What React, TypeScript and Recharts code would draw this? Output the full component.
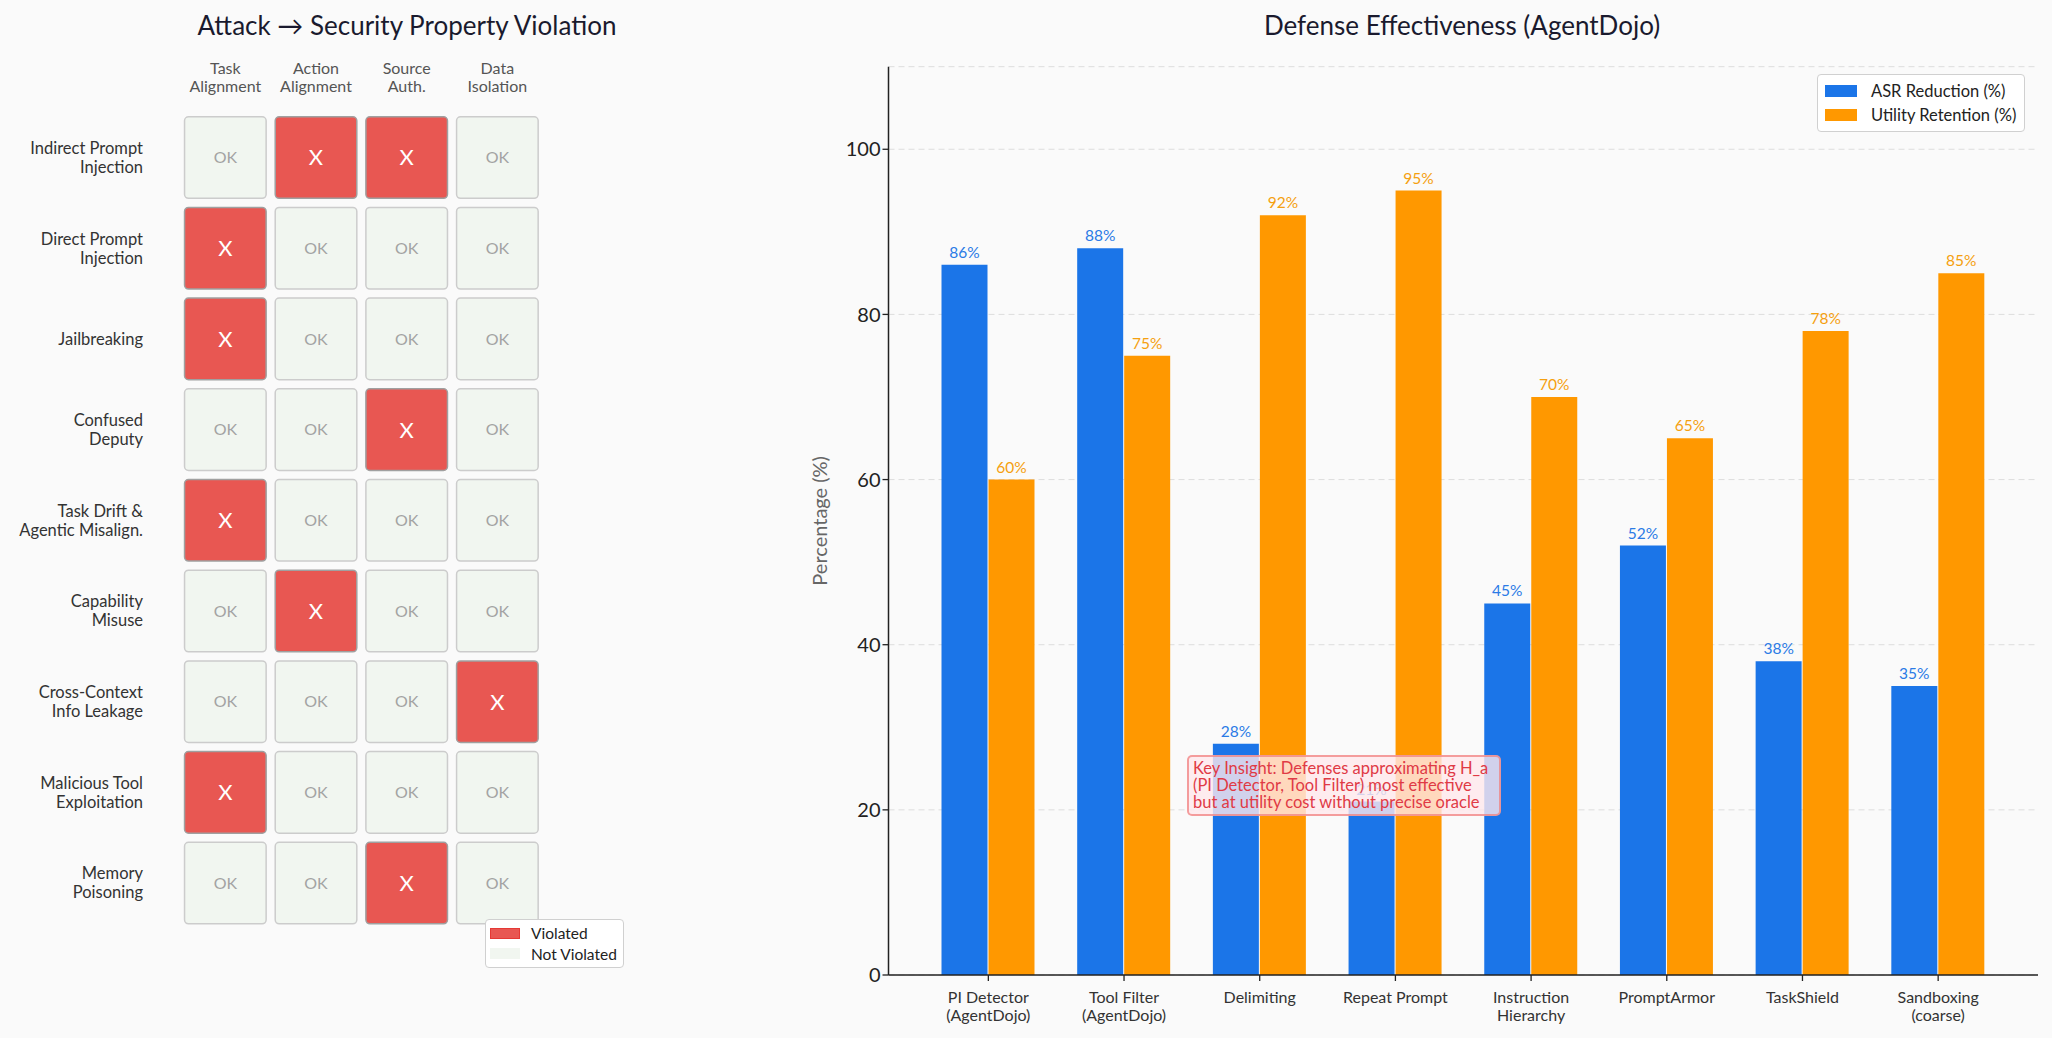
import {
  BarChart,
  Bar,
  XAxis,
  YAxis,
  CartesianGrid,
  LabelList,
  Legend,
  ScatterChart,
  Scatter,
} from "recharts";

// heatmap
const attacks = [
  "Indirect Prompt\nInjection",
  "Direct Prompt\nInjection",
  "Jailbreaking",
  "Confused\nDeputy",
  "Task Drift &\nAgentic Misalign.",
  "Capability\nMisuse",
  "Cross-Context\nInfo Leakage",
  "Malicious Tool\nExploitation",
  "Memory\nPoisoning",
];
const properties = ["Task\nAlignment", "Action\nAlignment", "Source\nAuth.", "Data\nIsolation"];
const violations = [
  [0, 1, 1, 0],
  [1, 0, 0, 0],
  [1, 0, 0, 0],
  [0, 0, 1, 0],
  [1, 0, 0, 0],
  [0, 1, 0, 0],
  [0, 0, 0, 1],
  [1, 0, 0, 0],
  [0, 0, 1, 0],
];

// bar chart
const defenses = [
  "PI Detector\n(AgentDojo)",
  "Tool Filter\n(AgentDojo)",
  "Delimiting",
  "Repeat Prompt",
  "Instruction\nHierarchy",
  "PromptArmor",
  "TaskShield",
  "Sandboxing\n(coarse)",
];
const asrReduction = [86, 88, 28, 21, 45, 52, 38, 35];
const utilityRetention = [60, 75, 92, 95, 70, 65, 78, 85];
const yTicks = [0, 20, 40, 60, 80, 100];

const cells = attacks.flatMap((_, r) =>
  properties.map((_, c) => ({ col: c, row: r, v: violations[r][c] }))
);
const barData = defenses.map((name, i) => ({
  name,
  asr: asrReduction[i],
  util: utilityRetention[i],
}));

const RED = "#e85752";
const PALE = "#f1f6f0";
const BLUE = "#1b75e8";
const ORANGE = "#ff9800";
const CELL = 81.6;

const CellShape = (props: any) => {
  const { cx, cy, payload } = props;
  const bad = payload.v === 1;
  return (
    <g>
      <rect
        x={cx - CELL / 2}
        y={cy - CELL / 2}
        width={CELL}
        height={CELL}
        rx={4}
        fill={bad ? RED : PALE}
        stroke={bad ? "#a0a0a0" : "#cccccc"}
        strokeWidth={1.5}
      />
      <text
        x={cx}
        y={cy}
        dy="0.36em"
        textAnchor="middle"
        fill={bad ? "#ffffff" : "#a3a3a3"}
        fontSize={bad ? 22 : 16}
      >
        {bad ? "X" : "OK"}
      </text>
    </g>
  );
};

const RowTick = (props: any) => {
  const { x, y, payload } = props;
  const lines = attacks[payload.value].split("\n");
  return (
    <text x={x} y={y} textAnchor="end" fill="#333" fontSize={16.5}>
      {lines.map((l, i) => (
        <tspan key={i} x={x} y={y + (i - (lines.length - 1) / 2) * 19} dy="0.35em">
          {l}
        </tspan>
      ))}
    </text>
  );
};

const ColTick = (props: any) => {
  const { x, y, payload } = props;
  const lines = properties[payload.value].split("\n");
  return (
    <text x={x} y={y} textAnchor="middle" fill="#555" fontSize={16}>
      {lines.map((l, i) => (
        <tspan key={i} x={x} y={y - 44 + i * 18} dy="0.35em">
          {l}
        </tspan>
      ))}
    </text>
  );
};

const DefenseTick = (props: any) => {
  const { x, y, payload } = props;
  const lines = String(payload.value).split("\n");
  return (
    <text x={x} y={y} textAnchor="middle" fill="#333" fontSize={16}>
      {lines.map((l, i) => (
        <tspan key={i} x={x} y={y + 14 + i * 18.5} dy="0.35em">
          {l}
        </tspan>
      ))}
    </text>
  );
};

const HeatLegend = () => (
  <div
    style={{
      background: "#fff",
      border: "1.5px solid #d0d0d0",
      borderRadius: 4,
      padding: "3px 6px 3px 4px",
      fontSize: 15.5,
      color: "#222",
    }}
  >
    {[
      { label: "Violated", fill: RED, border: "1.5px solid #e53935" },
      { label: "Not Violated", fill: PALE, border: "1.5px solid " + PALE },
    ].map((it) => (
      <div key={it.label} style={{ display: "flex", alignItems: "center", height: 20.4 }}>
        <span
          style={{
            width: 28,
            height: 9,
            background: it.fill,
            border: it.border,
            marginRight: 11,
          }}
        />
        {it.label}
      </div>
    ))}
  </div>
);

const BarLegend = (props: any) => (
  <div
    style={{
      background: "#fff",
      border: "1.5px solid #d0d0d0",
      borderRadius: 4,
      padding: "4px 8px 4px 7px",
      fontSize: 16.5,
      color: "#222",
    }}
  >
    {(props.payload || []).map((it: any) => (
      <div key={it.value} style={{ display: "flex", alignItems: "center", height: 24 }}>
        <span style={{ width: 32, height: 12, background: it.color, marginRight: 14 }} />
        {it.value}
      </div>
    ))}
  </div>
);

const YLabel = (props: any) => {
  const { viewBox } = props;
  const cx = viewBox.x + 40;
  const cy = viewBox.y + viewBox.height / 2;
  return (
    <text
      x={cx}
      y={cy}
      transform={`rotate(-90 ${cx} ${cy})`}
      textAnchor="middle"
      dy="0.35em"
      fill="#666"
      fontSize={20}
    >
      Percentage (%)
    </text>
  );
};

const titleStyle = {
  position: "absolute" as const,
  top: 9,
  fontSize: 26,
  color: "#1a1a2e",
  transform: "translateX(-50%)",
  whiteSpace: "nowrap" as const,
};

export default function App() {
  return (
    <div
      style={{
        position: "absolute",
        left: 0,
        top: 0,
        width: 2052,
        height: 1038,
        background: "#fafafa",
        fontFamily: "Lato, 'Noto Sans', sans-serif",
        overflow: "hidden",
      }}
    >
      <div style={{ ...titleStyle, left: 407 }}>Attack → Security Property Violation</div>
      <div style={{ ...titleStyle, left: 1462 }}>Defense Effectiveness (AgentDojo)</div>

      {/* Heatmap */}
      <div style={{ position: "absolute", left: 0, top: 0 }}>
        <ScatterChart
          width={640}
          height={1000}
          margin={{ top: 52.2, right: 97.3, bottom: 71.6, left: 10 }}
        >
          <XAxis
            type="number"
            dataKey="col"
            orientation="top"
            domain={[-0.5, 3.5]}
            ticks={[0, 1, 2, 3]}
            interval={0}
            height={60}
            axisLine={false}
            tickLine={false}
            tickSize={0}
            tickMargin={0}
            tick={<ColTick />}
          />
          <YAxis
            type="number"
            dataKey="row"
            reversed
            domain={[-0.5, 8.5]}
            ticks={[0, 1, 2, 3, 4, 5, 6, 7, 8]}
            interval={0}
            width={170}
            axisLine={false}
            tickLine={false}
            tickSize={0}
            tickMargin={37}
            tick={<RowTick />}
          />
          <Scatter data={cells} shape={<CellShape />} isAnimationActive={false} />
          <Legend
            layout="horizontal"
            verticalAlign="middle"
            align="center"
            content={<HeatLegend />}
            wrapperStyle={{ left: 485, top: 919, width: "auto" }}
          />
        </ScatterChart>
      </div>

      {/* Bar chart */}
      <div style={{ position: "absolute", left: 780, top: 0 }}>
        <BarChart
          width={1272}
          height={1038}
          data={barData}
          margin={{ top: 66.7, right: 14, bottom: 13, left: 0 }}
          barSize={46}
          barGap={1}
        >
          <CartesianGrid vertical={false} stroke="#dddddd" strokeDasharray="6 4" />
          <XAxis
            dataKey="name"
            interval={0}
            height={50}
            padding={{ left: 32, right: 32 }}
            axisLine={{ stroke: "#222", strokeWidth: 1.5 }}
            tickLine={{ stroke: "#222", strokeWidth: 1.3 }}
            tick={<DefenseTick />}
          />
          <YAxis
            domain={[0, 110]}
            ticks={yTicks}
            width={108.5}
            axisLine={{ stroke: "#222", strokeWidth: 1.5 }}
            tickLine={{ stroke: "#222", strokeWidth: 1.3 }}
            tick={{ fontSize: 20, fill: "#222" }}
            label={<YLabel />}
          />
          <Bar dataKey="asr" name="ASR Reduction (%)" fill={BLUE} isAnimationActive={false}>
            <LabelList
              dataKey="asr"
              position="top"
              offset={7}
              fill="#2b7be6"
              fontSize={15.5}
              formatter={(v: any) => `${v}%`}
            />
          </Bar>
          <Bar dataKey="util" name="Utility Retention (%)" fill={ORANGE} isAnimationActive={false}>
            <LabelList
              dataKey="util"
              position="top"
              offset={7}
              fill="#f5a00f"
              fontSize={15.5}
              formatter={(v: any) => `${v}%`}
            />
          </Bar>
          <Legend
            layout="horizontal"
            verticalAlign="middle"
            align="center"
            content={<BarLegend />}
            wrapperStyle={{ left: 1037, top: 74, width: "auto" }}
          />
        </BarChart>
      </div>

      {/* Annotation */}
      <div
        style={{
          position: "absolute",
          left: 1187,
          top: 755,
          width: 314,
          height: 61,
          boxSizing: "border-box",
          background: "rgba(255, 232, 236, 0.8)",
          border: "2px solid rgba(240, 128, 128, 0.75)",
          borderRadius: 5,
          color: "#e03a45",
          fontSize: 16.5,
          lineHeight: "17px",
          padding: "3px 3px 0 4px",
          whiteSpace: "nowrap",
        }}
      >
        Key Insight: Defenses approximating H_a
        <br />
        (PI Detector, Tool Filter) most effective
        <br />
        but at utility cost without precise oracle
      </div>
    </div>
  );
}
